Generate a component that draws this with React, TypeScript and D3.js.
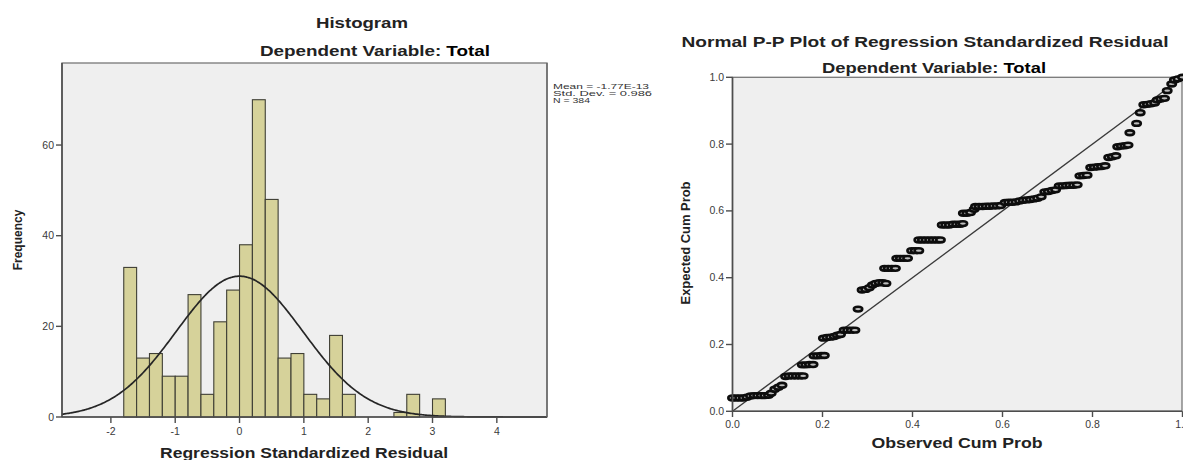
import * as d3 from "d3";

// histogram bins (lower edge, width 0.2) and counts
const binLower = [-1.8, -1.6, -1.4, -1.2, -1.0, -0.8, -0.6, -0.4, -0.2, 0, 0.2, 0.4, 0.6, 0.8, 1.0, 1.2, 1.4, 1.6, 2.4, 2.6, 3.0];
const binCount = [33, 13, 14, 9, 9, 27, 5, 21, 28, 38, 70, 48, 13, 14, 5, 4, 18, 5, 1, 5, 4];
const binWidth = 0.2;
const histXTicks = [-2, -1, 0, 1, 2, 3, 4];
const histYTicks = [0, 20, 40, 60];
const statMean = -1.77e-13;
const statSd = 0.986;
const statN = 384;
const statLines = ["Mean = -1.77E-13", "Std. Dev. = 0.986", "N = 384"];
const statWidths = [96, 99, 37];

// P-P plot points
const observedCum = [
  0.0, 0.008, 0.016, 0.024, 0.032, 0.04, 0.048, 0.056, 0.064, 0.072, 0.08, 0.086,
  0.094, 0.102, 0.11,
  0.118, 0.126, 0.134, 0.142, 0.15, 0.157,
  0.155, 0.163, 0.171, 0.179,
  0.181, 0.189, 0.197, 0.204,
  0.202, 0.21, 0.218, 0.226, 0.233, 0.24,
  0.248, 0.256, 0.264, 0.272,
  0.279,
  0.288, 0.296, 0.304, 0.311, 0.318, 0.326, 0.334, 0.341,
  0.338, 0.346, 0.354, 0.362,
  0.365, 0.373, 0.381, 0.389,
  0.398, 0.406, 0.414,
  0.414, 0.422, 0.43, 0.438, 0.446, 0.454, 0.462,
  0.466, 0.474, 0.482, 0.49, 0.498, 0.506, 0.512,
  0.513, 0.521, 0.529, 0.537,
  0.54, 0.548, 0.556, 0.564, 0.572, 0.58, 0.588, 0.596,
  0.606, 0.614, 0.622, 0.63, 0.638,
  0.646, 0.654, 0.662, 0.67, 0.678, 0.686,
  0.694, 0.702, 0.71, 0.718,
  0.726, 0.734, 0.742, 0.75, 0.758, 0.766,
  0.772, 0.78, 0.788,
  0.796, 0.804, 0.812, 0.82, 0.828,
  0.836, 0.844, 0.852,
  0.856, 0.864, 0.872, 0.879,
  0.883, 0.898, 0.906,
  0.914, 0.922, 0.93, 0.938,
  0.944, 0.952, 0.96,
  0.966, 0.976, 0.982, 0.99, 1.0,
];
const expectedCum = [
  0.04, 0.04, 0.04, 0.04, 0.042, 0.046, 0.047, 0.047, 0.047, 0.047, 0.048, 0.054,
  0.066, 0.072, 0.078,
  0.104, 0.106, 0.106, 0.106, 0.106, 0.106,
  0.139, 0.139, 0.14, 0.14,
  0.166, 0.166, 0.167, 0.167,
  0.219, 0.221, 0.222, 0.224, 0.228, 0.23,
  0.243, 0.243, 0.243, 0.243,
  0.306,
  0.363, 0.365, 0.37, 0.378, 0.383, 0.385, 0.385, 0.383,
  0.428, 0.428, 0.428, 0.428,
  0.458, 0.458, 0.458, 0.458,
  0.481, 0.481, 0.481,
  0.513, 0.513, 0.513, 0.513, 0.513, 0.513, 0.513,
  0.558, 0.558, 0.558, 0.56, 0.56, 0.56, 0.562,
  0.593, 0.593, 0.595, 0.605,
  0.613, 0.613, 0.613, 0.614, 0.614, 0.615, 0.615, 0.616,
  0.625, 0.626, 0.626, 0.627, 0.63,
  0.632, 0.633, 0.634, 0.636, 0.638, 0.642,
  0.657, 0.658, 0.661, 0.663,
  0.675, 0.675, 0.676, 0.677, 0.677, 0.678,
  0.705, 0.706, 0.707,
  0.73, 0.731, 0.732, 0.733, 0.735,
  0.76, 0.762, 0.765,
  0.792, 0.794, 0.795, 0.797,
  0.834, 0.862, 0.894,
  0.918, 0.919, 0.921, 0.923,
  0.932, 0.935, 0.937,
  0.96, 0.98, 0.992, 0.995, 1.0,
];
const ppTicks = [0, 0.2, 0.4, 0.6, 0.8, 1.0];

const font = "'Liberation Sans', Arial, sans-serif";
const plotBg = "#efefef";
const axisColor = "#4d4d4d";
const tickText = "#3a3a3a";

export default function App() {
  // histogram geometry
  const hx = d3.scaleLinear().domain([-2.76, 4.78]).range([62, 547]);
  const hy = d3.scaleLinear().domain([0, 78.1]).range([417, 63]);

  const normal = (x: number) =>
    (statN * binWidth) / (statSd * Math.sqrt(2 * Math.PI)) *
    Math.exp(-0.5 * ((x - statMean) / statSd) ** 2);
  const curveXs = d3.range(-2.76, 4.781, 0.02);
  const curve = d3
    .line<number>()
    .x(d => hx(d))
    .y(d => hy(normal(d)))
    .curve(d3.curveBasis)(curveXs);

  // P-P geometry
  const px = d3.scaleLinear().domain([0, 1]).range([732.5, 1182.5]);
  const py = d3.scaleLinear().domain([0, 1]).range([411.3, 77.3]);

  return (
    <svg
      width={1183}
      height={460}
      style={{ position: "absolute", left: 0, top: 0, background: "#fff" }}
      fontFamily={font}
    >
      {/* ---------- Histogram ---------- */}
      <text x={362} y={28} textAnchor="middle" fontSize={15} fontWeight="bold" fill="#222"
        textLength={92} lengthAdjust="spacingAndGlyphs">Histogram</text>
      <text x={375} y={56} textAnchor="middle" fontSize={15} fontWeight="bold" fill="#222"
        textLength={230} lengthAdjust="spacingAndGlyphs">
        Dependent Variable:  <tspan fill="#000">Total</tspan>
      </text>

      <rect x={62} y={63} width={485} height={354} fill={plotBg} stroke="#777" strokeWidth={1.3} />

      {binLower.map((b, i) => (
        <rect
          key={i}
          x={hx(b)}
          y={hy(binCount[i])}
          width={hx(b + binWidth) - hx(b)}
          height={hy(0) - hy(binCount[i])}
          fill="#d6d29a"
          stroke="#3f3f35"
          strokeWidth={1.1}
        />
      ))}

      <path d={curve || ""} fill="none" stroke="#262626" strokeWidth={1.7} />

      {/* axes */}
      <line x1={62} x2={62} y1={63} y2={417} stroke={axisColor} strokeWidth={1.6} />
      <line x1={62} x2={547} y1={417} y2={417} stroke={axisColor} strokeWidth={1.6} />
      <line x1={547} x2={547} y1={63} y2={417} stroke="#666" strokeWidth={1.4} />
      {histYTicks.map(t => (
        <g key={t}>
          <line x1={56} x2={62} y1={hy(t)} y2={hy(t)} stroke={axisColor} strokeWidth={1.4} />
          <text x={54} y={hy(t) + 3.5} textAnchor="end" fontSize={10.5} fill={tickText}>{t}</text>
        </g>
      ))}
      {histXTicks.map(t => (
        <g key={t}>
          <line x1={hx(t)} x2={hx(t)} y1={417} y2={423} stroke={axisColor} strokeWidth={1.4} />
          <text x={hx(t)} y={435} textAnchor="middle" fontSize={10.5} fill={tickText}>{t}</text>
        </g>
      ))}
      <text x={304} y={458} textAnchor="middle" fontSize={15} fontWeight="bold" fill="#222"
        textLength={288} lengthAdjust="spacingAndGlyphs">Regression Standardized Residual</text>
      <text transform="translate(22,240) rotate(-90)" textAnchor="middle" fontSize={12} fontWeight="bold" fill="#222">
        Frequency
      </text>

      {statLines.map((s, i) => (
        <text key={s} x={553} y={89 + i * 7} fontSize={8} fill="#333"
          textLength={statWidths[i]} lengthAdjust="spacingAndGlyphs">{s}</text>
      ))}

      {/* ---------- Normal P-P plot ---------- */}
      <text x={925} y={47} textAnchor="middle" fontSize={14} fontWeight="bold" fill="#222"
        textLength={487} lengthAdjust="spacingAndGlyphs">Normal P-P Plot of Regression Standardized Residual</text>
      <text x={934} y={73} textAnchor="middle" fontSize={14} fontWeight="bold" fill="#222"
        textLength={224} lengthAdjust="spacingAndGlyphs">
        Dependent Variable: <tspan fill="#000">Total</tspan>
      </text>

      <rect x={732.5} y={77.3} width={449.5} height={334} fill={plotBg} stroke="#777" strokeWidth={1.3} />

      <line x1={px(0)} y1={py(0)} x2={px(1)} y2={py(1)} stroke="#3a3a3a" strokeWidth={1.3} />

      {observedCum.map((o, i) => (
        <ellipse
          key={i}
          cx={px(o)}
          cy={py(expectedCum[i])}
          rx={4.2}
          ry={2.4}
          fill="#bdbdbd"
          stroke="#0d0d0d"
          strokeWidth={2.6}
        />
      ))}

      <line x1={732.5} x2={732.5} y1={77.3} y2={411.3} stroke={axisColor} strokeWidth={1.6} />
      <line x1={732.5} x2={1182} y1={411.3} y2={411.3} stroke={axisColor} strokeWidth={1.6} />
      {ppTicks.map(t => (
        <g key={t}>
          <line x1={726} x2={732.5} y1={py(t)} y2={py(t)} stroke={axisColor} strokeWidth={1.4} />
          <text x={724} y={py(t) + 3.5} textAnchor="end" fontSize={10.5} fill={tickText}>{t.toFixed(1)}</text>
          <line x1={px(t)} x2={px(t)} y1={411.3} y2={417} stroke={axisColor} strokeWidth={1.4} />
          <text x={px(t)} y={428} textAnchor="middle" fontSize={10.5} fill={tickText}>{t.toFixed(1)}</text>
        </g>
      ))}
      <text x={957} y={448} textAnchor="middle" fontSize={14} fontWeight="bold" fill="#222"
        textLength={171} lengthAdjust="spacingAndGlyphs">Observed Cum Prob</text>
      <text transform="translate(690,243) rotate(-90)" textAnchor="middle" fontSize={13} fontWeight="bold" fill="#222"
        textLength={123} lengthAdjust="spacingAndGlyphs">Expected Cum Prob</text>
    </svg>
  );
}
